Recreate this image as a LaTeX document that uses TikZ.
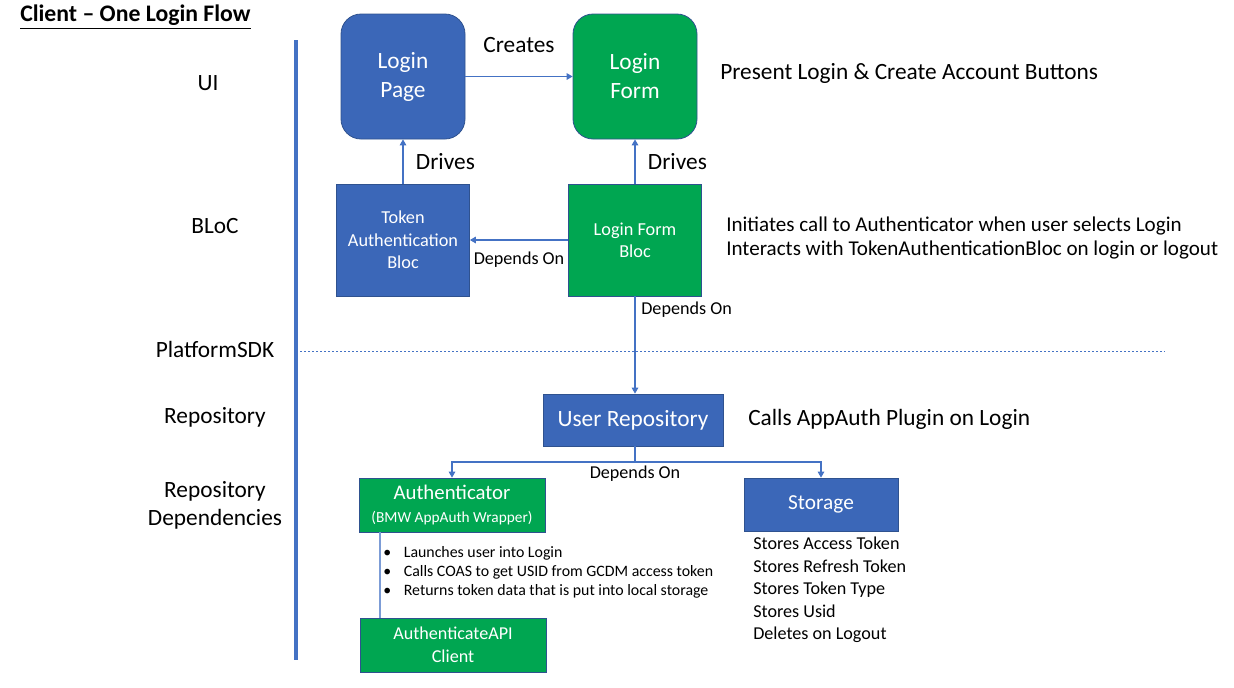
\documentclass[tikz,border=0pt]{standalone}
\usepackage{fontspec}
\setmainfont{Carlito}
\usetikzlibrary{arrows.meta}

\definecolor{boxblue}{RGB}{59,103,184}
\definecolor{boxgreen}{RGB}{0,166,81}
\definecolor{edgeblue}{RGB}{47,82,143}
\definecolor{lineblue}{RGB}{68,114,196}

\newcommand{\fs}[2]{\fontsize{#1}{#2}\selectfont}

\begin{document}
\begin{tikzpicture}[x=0.75pt,y=-0.75pt,
    box/.style={draw=edgeblue,line width=0.6pt,text=white,align=center,inner sep=0pt},
    bluebox/.style={box,fill=boxblue},
    greenbox/.style={box,fill=boxgreen},
    conn/.style={lineblue,line width=0.8pt,-{Triangle[width=5pt,length=4.5pt]}},
    big/.style={font=\fs{17.5}{21}},
    small/.style={font=\fs{13.6}{16}},
    lbl/.style={align=center,inner sep=0pt,big}]

    \useasboundingbox (0,0) rectangle (1234,687);

    % title and layer bar
    \node[anchor=west,inner sep=0pt,font=\fs{17.8}{21}] (title) at (20,17) {\bfseries\underline{Client -- One Login Flow}};
    \draw[lineblue,line width=2.3pt] (296,40) -- (296,660);
    \draw[lineblue,line width=0.6pt,dash pattern=on 1.5pt off 1.5pt] (300,351) -- (1165,351);

    % layer labels
    \node[lbl] (ui) at (208,83) {UI};
    \node[lbl] (bloc) at (215,226) {BLoC};
    \node[lbl] (sdk) at (215,349) {PlatformSDK};
    \node[lbl] (repo) at (215,417) {Repository};
    \node[lbl] (deps) at (215,505) {Repository\\Dependencies};

    % UI
    \node[bluebox,rounded corners=15pt,minimum width=93pt,minimum height=93.75pt,font=\fs{17.5}{21.75}] (lp) at (403,76.5) {Login\\Page};
    \node[greenbox,rounded corners=15pt,minimum width=93pt,minimum height=93.75pt,font=\fs{17.5}{21.75}] (lf) at (635,76.5) {Login\\Form};
    \draw[conn] (lp) -- node[above=14pt,black,big] {Creates} (lf);
    \node[anchor=west,inner sep=0pt,big] (present) at (720,73) {Present Login \& Create Account Buttons};

    % BLoC
    \node[bluebox,minimum width=99.75pt,minimum height=84pt,font=\fs{13.7}{16.9}] (tab) at (403,240) {Token\\Authentication\\Bloc};
    \node[greenbox,minimum width=99.75pt,minimum height=84pt,font=\fs{13.7}{16.5}] (lfb) at (635,240) {Login Form\\Bloc};
    \draw[conn] (tab) -- node[right=6pt,black,big] {Drives} (lp);
    \draw[conn] (lfb) -- node[right=6pt,black,big] {Drives} (lf);
    \draw[conn] (lfb) -- node[below=5pt,black,small] {Depends On} (tab);
    \node[anchor=west,align=left,inner sep=0pt,font=\fs{15.8}{18}] (initiates) at (726,238) {Initiates call to Authenticator when user selects Login\\Interacts with TokenAuthenticationBloc on login or logout};

    % Repository
    \node[bluebox,minimum width=135pt,minimum height=39pt,big] (ur) at (633,420) {User Repository};
    \draw[conn] (lfb.south) -- node[pos=0.14,right=1pt,black,small] {Depends On} (lfb.south |- ur.north);
    \node[anchor=west,inner sep=0pt,big] (calls) at (748,419) {Calls AppAuth Plugin on Login};

    % dependencies
    \node[greenbox,minimum width=139.5pt,minimum height=40.5pt,font=\fs{15.6}{16}] (auth) at (452,505) {Authenticator\\[1pt]{\fs{11.5}{13}(BMW AppAuth Wrapper)}};
    \node[bluebox,minimum width=115.5pt,minimum height=39.75pt,font=\fs{16}{19}] (store) at (821,504.5) {Storage};
    \node[greenbox,minimum width=139.5pt,minimum height=40.5pt,font=\fs{13.6}{17}] (api) at (453,645) {AuthenticateAPI\\Client};
    \coordinate (split) at (635,462);
    \draw[lineblue,line width=0.8pt] (ur.south -| split) -- (split);
    \draw[conn] (split) -| (auth.north);
    \draw[conn] (split) -| (store.north);
    \node[lbl,small] (dep3) at (635,474) {Depends On};
    \draw[lineblue!70,line width=0.8pt] ([xshift=-54pt]auth.south) -- ([xshift=-54.75pt]api.north);

    % notes
    \node[anchor=north west,align=left,inner sep=0pt,font=\fs{11.9}{14.2}] (bullets) at (383,546) {\textbullet\hspace{9.5pt}Launches user into Login\\\textbullet\hspace{9.5pt}Calls COAS to get USID from GCDM access token\\\textbullet\hspace{9.5pt}Returns token data that is put into local storage};
    \node[anchor=north west,align=left,inner sep=0pt,font=\fs{13.6}{16.8}] (storelist) at (753,537) {Stores Access Token\\Stores Refresh Token\\Stores Token Type\\Stores Usid\\Deletes on Logout};

\end{tikzpicture}
\end{document}
